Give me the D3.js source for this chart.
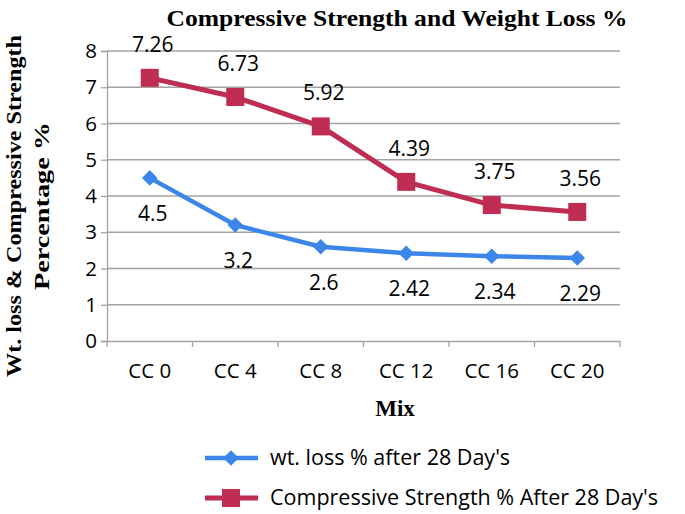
<!DOCTYPE html>
<html><head><meta charset="utf-8">
<script src="https://cdnjs.cloudflare.com/ajax/libs/d3/7.8.5/d3.min.js"></script>
<style>
html,body{margin:0;padding:0;background:#fff;}
svg{display:block;}
</style></head>
<body>
<svg id="chart" width="685" height="514"></svg>
<script>
const categories = ["CC 0","CC 4","CC 8","CC 12","CC 16","CC 20"];
const wtLoss = [4.5, 3.2, 2.6, 2.42, 2.34, 2.29];
const compStrength = [7.26, 6.73, 5.92, 4.39, 3.75, 3.56];
const yTicks = [0,1,2,3,4,5,6,7,8];
const seriesNames = ["wt. loss % after 28 Day's", "Compressive Strength % After 28 Day's"];

const blue = "#3c86ea", red = "#bf2d52", grid = "#a3a3a3";
const numFont = "'Open Sans', sans-serif";
const serif = "'Liberation Serif', 'Times New Roman', serif";
const fs = 20.5;

const svg = d3.select("#chart");
const L = 107, R = 620, T = 51, B = 341;

const x = d3.scaleBand().domain(categories).range([L, R]);
const y = d3.scaleLinear().domain([0, 8]).range([B, T]);

// gridlines
svg.append("g").selectAll("line").data(yTicks.filter(d => d > 0)).join("line")
  .attr("x1", L).attr("x2", R).attr("y1", d => y(d)).attr("y2", d => y(d))
  .attr("stroke", grid).attr("stroke-width", 1.3);

// y axis
const yAxis = svg.append("g").attr("transform", `translate(${L},0)`)
  .call(d3.axisLeft(y).tickValues(yTicks).tickSize(6).tickPadding(4).tickFormat(d3.format("d")));
yAxis.select(".domain").attr("stroke", grid).attr("stroke-width", 1.3);
yAxis.selectAll(".tick line").attr("stroke", grid).attr("stroke-width", 1.3);
yAxis.selectAll("text").attr("font-family", numFont).attr("font-size", fs).attr("fill", "#000");

// x axis
const xAxis = svg.append("g").attr("transform", `translate(0,${B})`)
  .call(d3.axisBottom(x).tickSize(0).tickPadding(22));
xAxis.select(".domain").attr("stroke", grid).attr("stroke-width", 1.3);
xAxis.selectAll("text").attr("font-family", numFont).attr("font-size", fs).attr("fill", "#000");
// tick marks at band boundaries
const bounds = categories.map(c => x(c)).concat([x(categories[categories.length-1]) + x.bandwidth()]);
svg.append("g").selectAll("line").data(bounds).join("line")
  .attr("x1", d => d).attr("x2", d => d).attr("y1", B).attr("y2", B + 6)
  .attr("stroke", grid).attr("stroke-width", 1.3);

const cx = c => x(c) + x.bandwidth() / 2;
const line = d3.line().x((d, i) => cx(categories[i])).y(d => y(d));

// blue series
svg.append("path").datum(wtLoss).attr("d", line).attr("fill", "none")
  .attr("stroke", blue).attr("stroke-width", 4.5).attr("stroke-linejoin", "round");
svg.append("g").selectAll("path").data(wtLoss).join("path")
  .attr("transform", (d, i) => `translate(${cx(categories[i])},${y(d)}) rotate(45)`)
  .attr("d", "M-5.5,-5.5H5.5V5.5H-5.5Z").attr("fill", blue);
svg.append("g").selectAll("text").data(wtLoss).join("text")
  .attr("x", (d, i) => cx(categories[i]) + 3).attr("y", d => y(d) + 43)
  .attr("text-anchor", "middle").attr("font-family", numFont).attr("font-size", 21)
  .text(d => d);

// red series
svg.append("path").datum(compStrength).attr("d", line).attr("fill", "none")
  .attr("stroke", red).attr("stroke-width", 5).attr("stroke-linejoin", "round");
svg.append("g").selectAll("rect").data(compStrength).join("rect")
  .attr("x", (d, i) => cx(categories[i]) - 9).attr("y", d => y(d) - 9)
  .attr("width", 18).attr("height", 18).attr("fill", red);
svg.append("g").selectAll("text").data(compStrength).join("text")
  .attr("x", (d, i) => cx(categories[i]) + 3).attr("y", d => y(d) - 26)
  .attr("text-anchor", "middle").attr("font-family", numFont).attr("font-size", 21)
  .text(d => d.toFixed(2));

// title
svg.append("text").attr("x", 397).attr("y", 26).attr("text-anchor", "middle")
  .attr("font-family", serif).attr("font-weight", "bold").attr("font-size", 24)
  .attr("textLength", 461).attr("lengthAdjust", "spacingAndGlyphs")
  .text("Compressive Strength and Weight Loss %");

// y title
const yt = svg.append("text").attr("transform", "translate(0,206) rotate(-90)")
  .attr("text-anchor", "middle").attr("font-family", serif).attr("font-weight", "bold").attr("font-size", 22);
yt.append("tspan").attr("x", 0).attr("y", 21).attr("textLength", 342).attr("lengthAdjust", "spacingAndGlyphs")
  .text("Wt. loss & Compressive Strength");
yt.append("tspan").attr("x", 0).attr("y", 49).attr("textLength", 168).attr("lengthAdjust", "spacingAndGlyphs")
  .text("Percentage %");

// x title
svg.append("text").attr("x", 395).attr("y", 416).attr("text-anchor", "middle")
  .attr("font-family", serif).attr("font-weight", "bold").attr("font-size", 23).text("Mix");

// legend
const leg = svg.append("g");
const legY = [458, 498];
leg.append("line").attr("x1", 205).attr("x2", 258).attr("y1", legY[0]).attr("y2", legY[0])
  .attr("stroke", blue).attr("stroke-width", 4.5);
leg.append("path").attr("transform", `translate(231,${legY[0]}) rotate(45)`)
  .attr("d", "M-5.5,-5.5H5.5V5.5H-5.5Z").attr("fill", blue);
leg.append("line").attr("x1", 205).attr("x2", 258).attr("y1", legY[1]).attr("y2", legY[1])
  .attr("stroke", red).attr("stroke-width", 5);
leg.append("rect").attr("x", 222).attr("y", legY[1] - 9).attr("width", 18).attr("height", 18).attr("fill", red);
leg.selectAll("text.lg").data(seriesNames).join("text").attr("class", "lg")
  .attr("x", 270).attr("y", (d, i) => legY[i] + 7)
  .attr("font-family", numFont).attr("font-size", 21.5).text(d => d);
</script>
</body></html>
